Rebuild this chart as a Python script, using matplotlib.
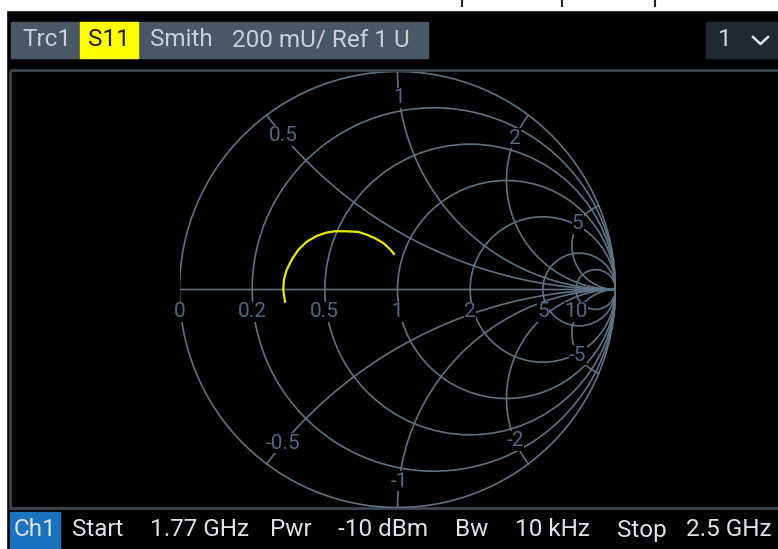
import numpy as np
import matplotlib.pyplot as plt
from matplotlib.patches import Rectangle, Circle

plt.rcParams['font.family'] = ['Roboto', 'DejaVu Sans']

# smith chart grid values
r_circles = [0, 0.2, 0.5, 1, 2, 5, 10]
x_arcs = [0.5, 1, 2, 5, -0.5, -1, -2, -5]
r_labels = ['0', '0.2', '0.5', '1', '2', '5', '10']
x_labels = ['0.5', '1', '2', '5', '-0.5', '-1', '-2', '-5']

# S11 trace, reflection coefficient
s11_re = [-0.516, -0.524, -0.521, -0.509, -0.486, -0.456, -0.417, -0.372, -0.326,
          -0.287, -0.234, -0.180, -0.142, -0.103, -0.065, -0.034, -0.016]
s11_im = [-0.056, -0.002, 0.044, 0.089, 0.135, 0.181, 0.219, 0.245, 0.261,
          0.267, 0.267, 0.264, 0.252, 0.235, 0.213, 0.184, 0.163]

header = ['Trc1', 'S11', 'Smith', '200 mU/ Ref 1 U']
footer = ['Ch1', 'Start', '1.77 GHz', 'Pwr', '-10 dBm', 'Bw', '10 kHz', 'Stop', '2.5 GHz']

W, H = 778, 549
grid_col = '#5f7283'
lab_col = '#4f6882'
fs_bar = 17.5
fs_lab = 15


def gamma(z):
    return (z - 1) / (z + 1)


fig = plt.figure(figsize=(W / 100, H / 100), dpi=100, facecolor='black')

# screen furniture in pixel coordinates
bg = fig.add_axes([0, 0, 1, 1])
bg.set_xlim(0, W)
bg.set_ylim(H, 0)
bg.axis('off')
bg.add_patch(Rectangle((0, 0), W, 9.5, color='white', zorder=5))
bg.add_patch(Rectangle((0, 0), 6, H, color='white', zorder=5))
for xm in [462, 562, 655]:
    bg.plot([xm, xm], [0, 6], color='#222222', lw=1.5, zorder=6)
bg.add_patch(Rectangle((10, 70), W, 438, fill=False, ec='#3a4650', lw=2, zorder=1))

# header bar
bg.add_patch(Rectangle((11, 22), 417, 36, color='#4a5865', zorder=2))
bg.add_patch(Rectangle((80, 22), 58, 36, color='#ffff00', zorder=3))
hx = [22, 109, 150, 232]
for i, t in enumerate(header):
    bg.text(hx[i], 40, t, fontsize=fs_bar, color='#1e1e10' if t == 'S11' else '#c8d2dc',
            ha='center' if t == 'S11' else 'left', va='center', zorder=4)
bg.add_patch(Rectangle((706, 22), 80, 36, color='#1f2931', zorder=2))
bg.text(718, 40, '1', fontsize=fs_bar, color='#d0d8e0', ha='left', va='center', zorder=4)
bg.plot([753, 760.5, 768], [37, 44, 37], color='#e0e6ea', lw=1.8, zorder=4)

# footer bar
bg.add_patch(Rectangle((10, 512), 50, 40, color='#1b73bf', zorder=2))
fx = [35, 72, 150, 270, 338, 455, 515, 617, 686]
for i, t in enumerate(footer):
    bg.text(fx[i], 530, t, fontsize=fs_bar, color='#dde3e8',
            ha='center' if i == 0 else 'left', va='center', zorder=4)

# smith chart
cx, cy, rad = 397.5, 289.5, 218
ax = fig.add_axes([(cx - rad) / W, (H - cy - rad) / H, 2 * rad / W, 2 * rad / H])
ax.set_xlim(-1, 1)
ax.set_ylim(-1, 1)
ax.axis('off')
ax.patch.set_alpha(0)

for r in r_circles:
    ax.add_patch(Circle((r / (1 + r), 0), 1 / (1 + r), fill=False, ec=grid_col, lw=1.2))

rr = np.concatenate([[0], np.logspace(-3, 4, 1500)])
g = gamma(rr + 0j)
ax.plot(g.real, g.imag, color=grid_col, lw=1.2)
box = dict(facecolor='black', edgecolor='none', pad=0.3)
for xv, t in zip(x_arcs, x_labels):
    g = gamma(rr + 1j * xv)
    ax.plot(g.real, g.imag, color=grid_col, lw=1.2)
    # label sits on the arc just inside the outer circle
    k = np.argmax(np.abs(g) < 0.88)
    ax.text(g[k].real, g[k].imag, t, fontsize=fs_lab, color=lab_col, ha='center',
            va='center', bbox=box, zorder=4)

for r, t in zip(r_circles, r_labels):
    ax.text(gamma(r), -0.103, t, fontsize=fs_lab, color=lab_col, ha='center', va='center',
            bbox=box, zorder=4)

ax.plot(s11_re, s11_im, color='#eaea00', lw=1.6, zorder=5)

fig.savefig('out.png', dpi=100, facecolor='black')
